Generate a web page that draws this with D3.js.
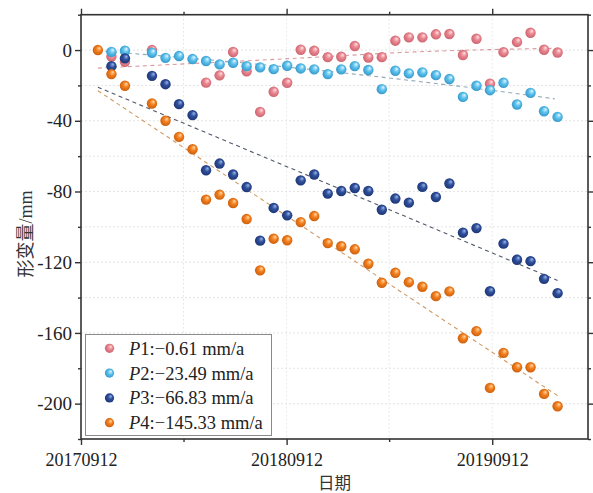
<!DOCTYPE html>
<html><head><meta charset="utf-8">
<script src="https://cdn.jsdelivr.net/npm/d3@7/dist/d3.min.js"></script>
<style>html,body{margin:0;padding:0;background:#fff}svg{display:block}</style>
</head><body>
<script>
// ---------- data ----------
const dates = ["20171012","20171105","20171129","20171223","20180116","20180209","20180305","20180329","20180422","20180516","20180609","20180703","20180727","20180820","20180913","20181007","20181031","20181124","20181218","20190111","20190204","20190228","20190324","20190417","20190511","20190604","20190628","20190722","20190815","20190908","20191002","20191026","20191119","20191213","20200106"];
const p1 = [null,-3.7,-6.6,null,0,null,null,null,-18.4,-14.3,-1.1,-12,-35,-23.6,-18.5,0.2,-0.4,-4,-3.8,2.3,-4.2,-4,5.3,7.2,7.2,8.9,9.1,-2.8,6.4,-19,-1.2,4.6,9.8,0.2,-1.4];
const p2 = [null,-1,-0.4,null,-1.5,-4.4,-3.4,-5.1,-6.2,-8.1,-7.2,-9.1,-9.8,-10.8,-8.9,-10.4,-10.9,-13.6,-10.9,-9.1,-11.3,-22.1,-11.7,-13.2,-12.6,-14.2,-16.4,-26.5,-20.2,-22.7,-18.5,-30.8,-24.2,-34.6,-37.8];
const p3 = [null,-9.1,-4.7,null,-14.6,-19.3,-30.6,-36.8,-68,-64.2,-70.4,-77.5,-107.8,-89.3,-93.5,-73.7,-70.4,-81.2,-79.7,-78,-79.7,-90.3,-84,-86.3,-77.4,-83.1,-75.5,-103.3,-100.7,-136.4,-109.5,-118.6,-119.4,-129.4,-137.5];
const p4 = [0,-13.6,-20.2,null,-30.2,-40,-49.1,-56.1,-84.6,-81.8,-86.5,-95.6,-124.6,-106.7,-107.6,-97.3,-93.9,-109.2,-111,-112.7,-120.9,-131.6,-126,-131.3,-133.9,-139.2,-136.5,-163,-159,-191.1,-171.3,-179.4,-179.4,-194.5,-201.5];

const p1TrendDates = ["20171012","20181007","20190417","20200101"];
const p1TrendValues = [-10.2,-4.5,-1.2,1.0];
const p2TrendDates = ["20171012","20180416","20181007","20190417","20190916","20200101"];
const p2TrendValues = [-0.5,-5.2,-10.4,-17.1,-23.0,-27.6];
const p3TrendDates = ["20171012","20200106"];
const p3TrendValues = [-21.0,-130.3];
const p4TrendDates = ["20171012","20200106"];
const p4TrendValues = [-23.0,-195.5];

const seriesNames = ["P1","P2","P3","P4"];
const seriesRates = [":\u22120.61 mm/a",":\u221223.49 mm/a",":\u221266.83 mm/a",":\u2212145.33 mm/a"];
const xTickLabels = ["20170912","20180912","20190912"];
const xMinorTicks = ["20180313","20190313"];
const xDomain = ["20170912","20200229"];
const yMajorTicks = [0,-40,-80,-120,-160,-200];
const yMinorTicks = [20,-20,-60,-100,-140,-180,-220];
const yDomain = [-220,20];
const xTitle = "日期";
const yTitle = "形变量/mm";

// ---------- setup ----------
const W = 593, H = 493;
const L = 81, R = 588, T = 14.7, B = 439;
const parse = d3.utcParse("%Y%m%d");
const fmt = d3.utcFormat("%Y%m%d");
const x = d3.scaleUtc().domain(xDomain.map(parse)).range([L, R]);
const y = d3.scaleLinear().domain(yDomain).range([B, T]);

const svg = d3.select("body").append("svg").attr("width", W).attr("height", H);
svg.append("rect").attr("width", W).attr("height", H).attr("fill", "#fff");

const colors = ["#ea8892","#5fc3ee","#2f509c","#f3801f"];
const light = ["#ffe3e6","#e6f7ff","#9fb6ea","#ffd9a8"];
const dark = ["#c9606b","#2f93c6","#1b3270","#c85a08"];
const defs = svg.append("defs");
colors.forEach((c, i) => {
  const g = defs.append("radialGradient").attr("id", "g" + i)
    .attr("cx", "50%").attr("cy", "50%").attr("r", "55%").attr("fx", "66%").attr("fy", "30%");
  g.append("stop").attr("offset", "0%").attr("stop-color", light[i]);
  g.append("stop").attr("offset", "45%").attr("stop-color", c);
  g.append("stop").attr("offset", "100%").attr("stop-color", dark[i]);
});

// grid
const grid = svg.append("g");
const allY = yMajorTicks.concat(yMinorTicks).filter(v => v > yDomain[0] && v < yDomain[1]);
grid.selectAll("line.gy").data(allY).enter().append("line")
  .attr("x1", L).attr("x2", R).attr("y1", d => y(d)).attr("y2", d => y(d))
  .attr("stroke", "#e4e4e4").attr("stroke-width", 1).attr("stroke-dasharray", "2,2");
grid.selectAll("line.gx").data(xTickLabels.slice(1).concat(xMinorTicks)).enter().append("line")
  .attr("x1", d => x(parse(d))).attr("x2", d => x(parse(d))).attr("y1", T).attr("y2", B)
  .attr("stroke", "#e8e8e8").attr("stroke-width", 1).attr("stroke-dasharray", "2,2");

// trend lines
const trends = [[p1TrendDates,p1TrendValues,"#d99aa0"],[p2TrendDates,p2TrendValues,"#90aab8"],[p3TrendDates,p3TrendValues,"#50586a"],[p4TrendDates,p4TrendValues,"#d09a62"]];
const line = d3.line().x(d => x(d[0])).y(d => y(d[1])).curve(d3.curveMonotoneX);
trends.forEach(([ds, vs, c]) => {
  svg.append("path").attr("d", line(ds.map((d, i) => [parse(d), vs[i]])))
    .attr("fill", "none").attr("stroke", c).attr("stroke-width", 1.1).attr("stroke-dasharray", "4,3.5");
});

// points
[p1, p2, p3, p4].forEach((vals, si) => {
  const pts = dates.map((d, i) => [parse(d), vals[i]]).filter(p => p[1] !== null);
  svg.append("g").selectAll("circle").data(pts).enter().append("circle")
    .attr("cx", d => x(d[0])).attr("cy", d => y(d[1])).attr("r", 5.2)
    .attr("fill", `url(#g${si})`);
});

// axes
const axisColor = "#333";
function styleAxis(g) {
  g.select(".domain").remove();
  g.selectAll("line").attr("stroke", axisColor).attr("stroke-width", 1.4);
  g.selectAll("text").attr("fill", "#222").attr("font-family", "'Liberation Serif','Times New Roman',serif");
}
// left
const gl = svg.append("g").attr("transform", `translate(${L},0)`)
  .call(d3.axisLeft(y).tickValues(yMajorTicks).tickSize(6).tickPadding(3).tickFormat(d3.format("d")));
styleAxis(gl); gl.selectAll("text").attr("font-size", 19).text(d => String(d).replace("\u2212", "-"));
const glm = svg.append("g").attr("transform", `translate(${L},0)`)
  .call(d3.axisLeft(y).tickValues(yMinorTicks).tickSize(3).tickFormat(""));
styleAxis(glm);
// right
const gr = svg.append("g").attr("transform", `translate(${R},0)`)
  .call(d3.axisRight(y).tickValues(yMajorTicks).tickSize(6).tickFormat(""));
styleAxis(gr);
const grm = svg.append("g").attr("transform", `translate(${R},0)`)
  .call(d3.axisRight(y).tickValues(yMinorTicks).tickSize(3).tickFormat(""));
styleAxis(grm);
// bottom
const gb = svg.append("g").attr("transform", `translate(0,${B})`)
  .call(d3.axisBottom(x).tickValues(xTickLabels.map(parse)).tickSize(6).tickPadding(8).tickFormat(fmt));
styleAxis(gb); gb.selectAll("text").attr("font-size", 18);
const gbm = svg.append("g").attr("transform", `translate(0,${B})`)
  .call(d3.axisBottom(x).tickValues(xMinorTicks.map(parse)).tickSize(3).tickFormat(""));
styleAxis(gbm);
// top
const gt = svg.append("g").attr("transform", `translate(0,${T})`)
  .call(d3.axisTop(x).tickValues(xTickLabels.map(parse)).tickSize(6).tickFormat(""));
styleAxis(gt);
const gtm = svg.append("g").attr("transform", `translate(0,${T})`)
  .call(d3.axisTop(x).tickValues(xMinorTicks.map(parse)).tickSize(3).tickFormat(""));
styleAxis(gtm);
// frame
svg.append("rect").attr("x", L).attr("y", T).attr("width", R - L).attr("height", B - T)
  .attr("fill", "none").attr("stroke", axisColor).attr("stroke-width", 1.6);

// legend
const lg = svg.append("g");
lg.append("rect").attr("x", 85.5).attr("y", 334.5).attr("width", 186).attr("height", 101)
  .attr("fill", "#fff").attr("stroke", "#8a8a8a").attr("stroke-width", 1);
const rowY = [348.3, 373.1, 397.9, 422.7];
seriesNames.forEach((n, i) => {
  lg.append("circle").attr("cx", 109.5).attr("cy", rowY[i]).attr("r", 4.6).attr("fill", `url(#g${i})`);
  const t = lg.append("text").attr("x", 129).attr("y", rowY[i] + 6.5)
    .attr("font-family", "'Liberation Serif','Times New Roman',serif").attr("font-size", 18.5).attr("fill", "#222");
  t.append("tspan").attr("font-style", "italic").text(n[0]);
  t.append("tspan").text(n.slice(1) + seriesRates[i]);
});

// titles
svg.append("text").attr("x", (L + R) / 2).attr("y", 489).attr("text-anchor", "middle")
  .attr("font-family", "'Noto Sans CJK SC',serif").attr("font-size", 16.5).attr("fill", "#333").text(xTitle);
svg.append("text").attr("transform", `translate(32,234) rotate(-90)`).attr("text-anchor", "middle")
  .attr("font-family", "'Liberation Serif','Noto Sans CJK SC',serif").attr("font-size", 18).attr("fill", "#333").text(yTitle);
</script>
</body></html>
